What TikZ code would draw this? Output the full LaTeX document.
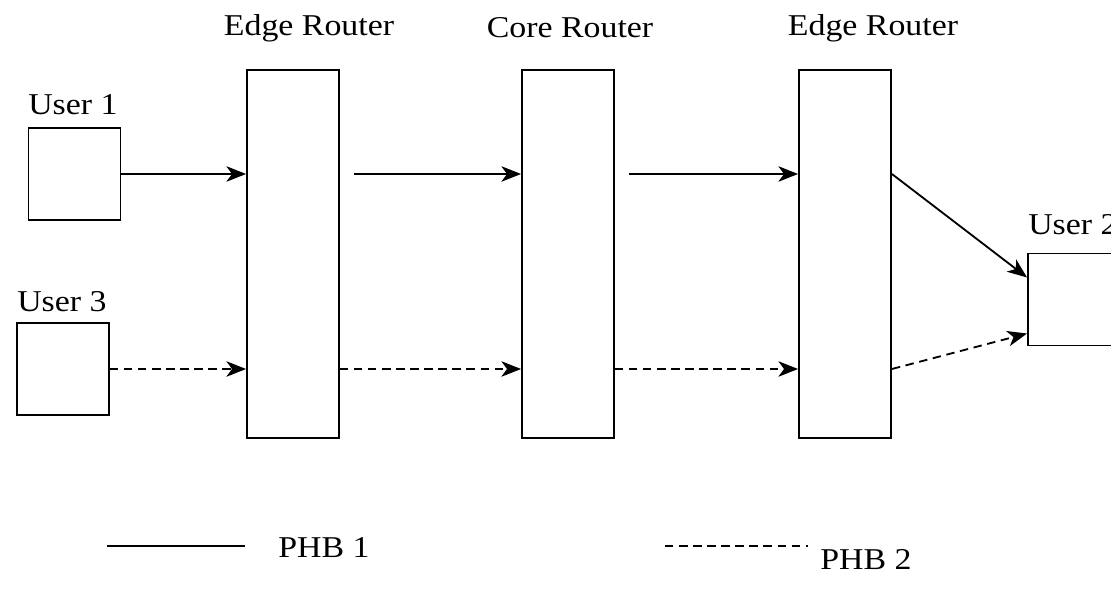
\documentclass[tikz,border=0pt]{standalone}
\usepackage{fontspec}
\setmainfont{Liberation Serif}[FakeStretch=1.12]
\usetikzlibrary{arrows.meta}

\tikzset{
	box/.style={draw,line width=1.3pt,inner sep=0pt},
	userbox/.style={box,minimum width=2.3cm,minimum height=2.3cm},
	routerbox/.style={box,minimum width=2.3cm,minimum height=9.2cm},
	flow/.style={line width=1.3pt,-{Stealth[length=14pt,width=11pt,inset=4pt]}},
	phbtwo/.style={flow,dash pattern=on 6pt off 4pt},
	txt/.style={inner sep=0pt,font=\fontsize{21.5}{25}\selectfont}
}

\begin{document}
\begin{tikzpicture}[x=0.025cm,y=-0.025cm]
	\useasboundingbox (0,0) rectangle (1111,602);

	% Draw users and routers
	\node[userbox] (user1) at (74.5,174) {};
	\node[userbox] (user3) at (63,369) {};
	\node[routerbox] (edge1) at (293,254) {};
	\node[routerbox] (core) at (568,254) {};
	\node[routerbox] (edge2) at (845,254) {};
	\node[userbox] (user2) at (1074,299.5) {};

	% Label boxes
	\node[txt] (edge1lbl) at (309,28) {Edge Router};
	\node[txt] (corelbl) at (570,28) {Core Router};
	\node[txt] (edge2lbl) at (873,28) {Edge Router};
	\node[txt,anchor=west] (user1lbl) at (28,105) {User 1};
	\node[txt,anchor=west] (user3lbl) at (17,302) {User 3};
	\node[txt,anchor=west] (user2lbl) at (1028,225) {User 2};

	% Draw PHB 1 path
	\draw[flow] (user1.east) -- (edge1.west |- user1.east);
	\draw[flow,shorten <=10pt] (edge1.east |- user1.east) -- (core.west |- user1.east);
	\draw[flow,shorten <=10pt] (core.east |- user1.east) -- (edge2.west |- user1.east);
	\draw[flow] (edge2.east |- user1.east) -- ([yshift=0.55cm]user2.west);

	% Draw PHB 2 path
	\draw[phbtwo] (user3.east) -- (edge1.west |- user3.east);
	\draw[phbtwo] (edge1.east |- user3.east) -- (core.west |- user3.east);
	\draw[phbtwo] (core.east |- user3.east) -- (edge2.west |- user3.east);
	\draw[phbtwo] (edge2.east |- user3.east) -- ([yshift=-0.85cm]user2.west);

	% Legend
	\coordinate (l1a) at (107,546);
	\coordinate (l1b) at (245,546);
	\coordinate (l2a) at (665,546);
	\coordinate (l2b) at (808,546);
	\draw[line width=1.3pt] (l1a) -- (l1b);
	\draw[line width=1.3pt,dash pattern=on 6pt off 4pt] (l2a) -- (l2b);
	\node[txt,anchor=west] (phb1) at (278,548) {PHB 1};
	\node[txt,anchor=west] (phb2) at (820,560) {PHB 2};
\end{tikzpicture}
\end{document}
